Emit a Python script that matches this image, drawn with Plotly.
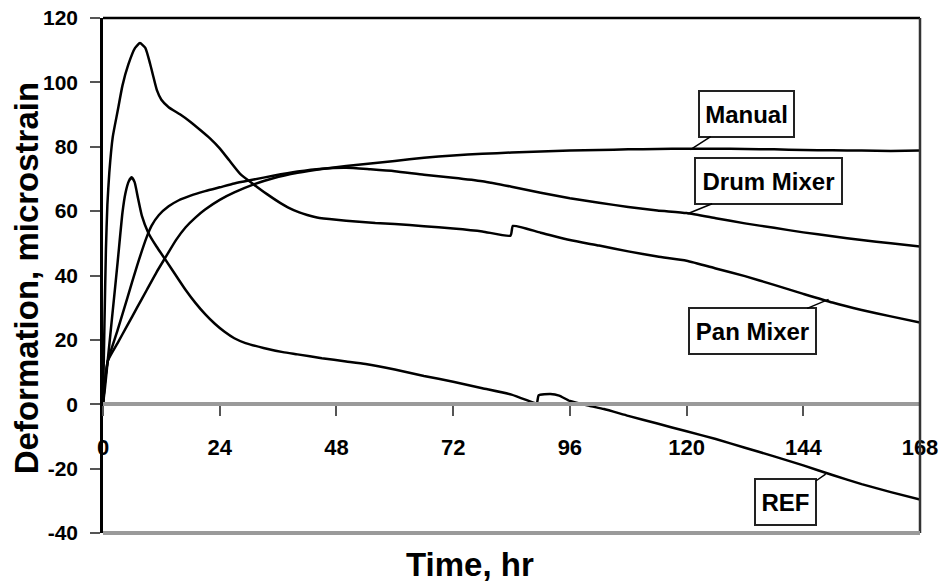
import plotly.graph_objects as go

# ---- data ----
pan_t = [0, 0.3, 0.6, 0.9, 1.3, 2, 3, 4, 5.2, 6.6, 7.6, 8.7, 9.7, 10.4, 11.1, 12, 13.5,
         15.9, 18, 20, 22, 24, 26, 28.2, 31, 33.8, 36.5, 39.2, 42, 44, 48, 52, 56, 60, 66, 72, 78, 83.8, 84.3,
         90, 96, 102, 108, 114, 120, 126, 132, 138, 144, 150, 156, 162, 168]
pan_y = [0, 25, 48, 62, 72, 83, 91, 99, 105.5, 110.7, 112.2, 110.7, 105.7, 101.5, 97.5, 94.6, 92.3,
         90, 87.7, 85.2, 82.6, 79.5, 75.7, 71.6, 68.3, 65.2, 62.5, 60.3, 58.8, 58, 57.3, 56.8, 56.3, 56, 55.3, 54.6, 53.7, 52.4, 55.4,
         53.3, 51, 49.3, 47.5, 45.9, 44.6, 42.2, 39.8, 37.1, 34.3, 31.6, 29.3, 27.3, 25.4]

drum_t = [0, 0.4, 1, 3, 5, 7, 9, 10, 11.5, 13.5, 15.5, 18, 21, 24, 27, 31, 35, 40, 45, 50, 55, 60, 66,
          72, 78, 84, 90, 96, 102, 108, 114, 120, 126, 132, 138, 144, 150, 156, 162, 168]
drum_y = [0, 7, 13.5, 23, 33, 43, 52, 55.5, 58.8, 61.5, 63.3, 64.8, 66.2, 67.4, 68.6, 69.8, 71, 72.3, 73.2, 73.5, 73, 72.4, 71.3,
          70.4, 69.3, 67.6, 65.7, 64, 62.6, 61.3, 60.2, 59.4, 57.8, 56.2, 54.8, 53.4, 52.2, 51, 50, 49]

manual_t = [0, 0.4, 1, 3, 5, 7, 9, 11, 13, 15, 17, 19, 21, 24, 27, 31, 35, 40, 45, 50, 55, 60, 66, 72,
            78, 84, 90, 96, 102, 108, 114, 120, 126, 132, 138, 144, 150, 156, 162, 168]
manual_y = [0, 7, 13.5, 19, 24.5, 30, 35.5, 41, 46, 51, 55, 58, 60.5, 63.5, 65.8, 68.3, 70.2, 71.9, 73.1, 74, 74.8, 75.6, 76.6, 77.3,
            77.8, 78.2, 78.5, 78.8, 79, 79.2, 79.3, 79.4, 79.4, 79.3, 79.2, 79, 78.9, 78.8, 78.7, 78.8]

ref_t = [0, 0.4, 1, 2, 3, 4, 4.6, 5.3, 5.9, 6.5, 7.2, 8, 9.3, 11, 12.8, 15, 17, 19, 21, 23, 25, 27, 29.3,
         33, 37, 40, 45, 50, 54, 60, 66, 72, 78, 84, 88.5, 89.2, 89.6, 92, 93.8, 96, 100, 103, 108, 114, 120,
         126, 132, 138, 144, 150, 156, 162, 168]
ref_y = [0, 5, 14, 29, 44, 59.5, 65.5, 69.3, 70.5, 69, 64, 58.5, 53.3, 49, 45, 40, 35.5, 31.5, 28, 25, 22.5, 20.5, 19,
         17.5, 16.2, 15.5, 14.3, 13.3, 12.5, 10.8, 8.8, 7, 5, 3, 0.5, 0.2, 2.8, 3.2, 2.7, 1, -0.5, -1.5, -3.6, -6, -8.4,
         -10.8, -13.5, -16.2, -19, -22, -24.8, -27.3, -29.6]

x_ticks = [0, 24, 48, 72, 96, 120, 144, 168]
y_ticks = [-40, -20, 0, 20, 40, 60, 80, 100, 120]
y_ticktext = ["-40", "-20", "0", "20", "40", "60", "80", "100", "120"]

FONT = "Liberation Sans"

fig = go.Figure()
for name, t, y in [("Manual", manual_t, manual_y), ("Drum Mixer", drum_t, drum_y),
                   ("Pan Mixer", pan_t, pan_y), ("REF", ref_t, ref_y)]:
    fig.add_trace(go.Scatter(x=t, y=y, mode="lines", name=name, cliponaxis=True,
                             line=dict(color="black", width=2.5, shape="spline", smoothing=0.5)))

# labels with short leader lines
labels = [("Manual", 120.8, 79.1, 56, -36, 93),
          ("Drum Mixer", 120.2, 59.2, 81, -33, 145),
          ("Pan Mixer", 149.2, 32.6, -76, 32, 125),
          ("REF", 148.6, -21.7, -40, 28, 59)]
for text, xa, ya, ax, ay, w in labels:
    fig.add_annotation(x=xa, y=ya, xref="x", yref="y", text=text, showarrow=True,
                       arrowhead=0, arrowwidth=1.5, arrowcolor="black", ax=ax, ay=ay,
                       width=w, height=44, borderpad=0, bordercolor="#222", borderwidth=2,
                       bgcolor="white", font=dict(family=FONT, size=24, color="black", weight="bold"))

fig.add_annotation(text="Time, hr", xref="paper", yref="paper", x=0.449, y=-0.062,
                   showarrow=False, yanchor="middle",
                   font=dict(family=FONT, size=33, color="black", weight="bold"))
fig.add_annotation(text="Deformation, microstrain", xref="paper", yref="paper", x=-0.094, y=0.495,
                   showarrow=False, textangle=-90, xanchor="center", yanchor="middle",
                   font=dict(family=FONT, size=33, color="black", weight="bold"))

# frame: black top and right, grey bottom
fig.add_shape(type="line", xref="paper", yref="paper", x0=0, y0=1, x1=1, y1=1,
              line=dict(color="black", width=2.5), layer="above")
fig.add_shape(type="line", xref="paper", yref="paper", x0=1, y0=0, x1=1, y1=1,
              line=dict(color="#333", width=2.5), layer="above")
fig.add_shape(type="line", xref="paper", yref="paper", x0=0, y0=0, x1=1, y1=0,
              line=dict(color="#9a9a9a", width=4), layer="above")

# the page body adds an 8px offset, so the figure is 8px smaller than the window
fig.update_layout(
    width=939, height=574,
    margin=dict(l=95, r=27, t=10, b=49, autoexpand=False),
    plot_bgcolor="white", paper_bgcolor="white",
    showlegend=False,
    font=dict(family=FONT, color="black"),
    xaxis=dict(range=[0, 168], tickvals=x_ticks, anchor="free", position=0.25, automargin=False,
               showline=True, linecolor="#9a9a9a", linewidth=4, showgrid=False, zeroline=False,
               ticks="outside", ticklen=10, tickcolor="#555", tickwidth=1.5,
               ticklabelstandoff=12, ticklabeloverflow="allow",
               tickfont=dict(family=FONT, size=22, color="black", weight="bold")),
    yaxis=dict(range=[-40, 120], tickvals=y_ticks, ticktext=y_ticktext, automargin=False,
               showline=True, linecolor="black", linewidth=2.5,
               showgrid=False, zeroline=False, ticks="outside", ticklen=10, tickcolor="#555", tickwidth=1.5,
               ticklabelstandoff=8, ticklabeloverflow="allow",
               tickfont=dict(family=FONT, size=21, color="black", weight="bold")),
)

fig.write_html("out.html")
